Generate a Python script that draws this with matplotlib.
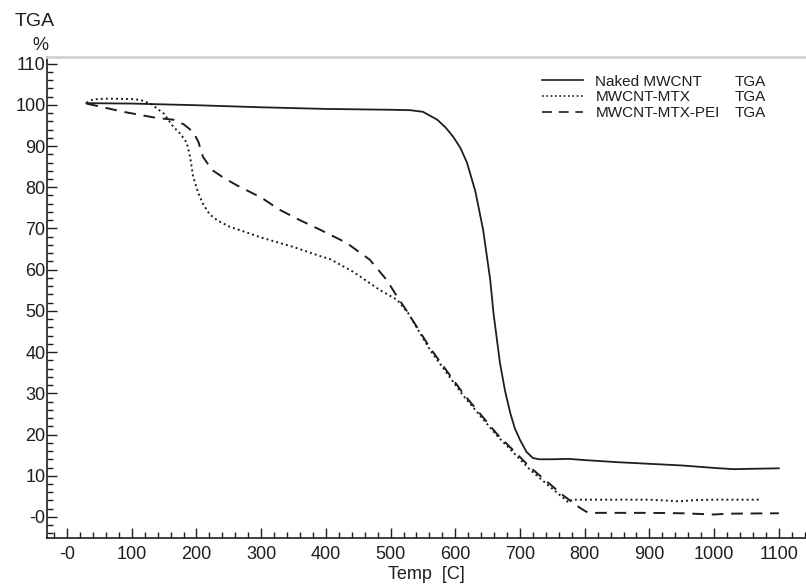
import numpy as np
import matplotlib
matplotlib.use("Agg")
import matplotlib.pyplot as plt
from matplotlib.ticker import MultipleLocator, FixedLocator, FixedFormatter

plt.rcParams['font.family'] = ['Liberation Sans', 'DejaVu Sans']

# TGA curves (temperature in C, mass in %)
naked_t = [30, 100, 200, 300, 400, 500, 530, 550, 572, 585, 597, 608, 618, 631, 643,
           654, 659, 669, 677, 685, 692, 700, 710, 720, 730, 750, 775, 800, 850, 900,
           950, 1000, 1030, 1060, 1100]
naked_w = [100.4, 100.3, 99.9, 99.4, 99.0, 98.8, 98.7, 98.3, 96.4, 94.5, 92.2, 89.5, 86.0,
           79.0, 69.7, 57.5, 49.5, 37.4, 30.5, 25.2, 21.5, 18.7, 15.8, 14.3, 14.0, 14.0,
           14.1, 13.8, 13.3, 12.9, 12.5, 11.9, 11.6, 11.7, 11.8]

mtx_t = [30, 40, 60, 100, 113, 130, 150, 164, 175, 185, 190, 195, 203, 210, 220, 232,
         250, 278, 300, 350, 391, 406, 442, 484, 510, 527, 561, 612, 664, 716, 745, 767,
         775, 780, 850, 900, 947, 970, 1000, 1071]
mtx_w = [100.5, 101.3, 101.5, 101.4, 101.2, 100.2, 97.8, 94.7, 93.0, 90.8, 87.5, 82.5,
         78.5, 76.0, 73.5, 72.0, 70.5, 69.0, 67.8, 65.5, 63.3, 62.6, 59.5, 55.0, 52.7,
         49.5, 40.5, 29.5, 19.8, 11.4, 7.5, 4.6, 3.5, 4.2, 4.2, 4.2, 3.8, 4.1, 4.2, 4.2]

pei_t = [30, 87, 139, 164, 180, 195, 203, 210, 224, 240, 262, 300, 329, 360, 391, 432,
         468, 494, 510, 525, 561, 612, 664, 716, 767, 790, 800, 806, 850, 900, 950, 1000,
         1020, 1100]
pei_w = [100.3, 98.3, 96.8, 96.4, 95.3, 93.4, 91.0, 87.4, 84.2, 82.5, 80.5, 77.5, 74.5,
         72.0, 69.7, 66.5, 62.4, 57.5, 53.5, 50.0, 41.0, 30.0, 20.2, 12.0, 5.2, 2.5, 1.5,
         1.0, 1.0, 1.0, 0.9, 0.6, 0.8, 0.9]

series_names = ['Naked MWCNT', 'MWCNT-MTX', 'MWCNT-MTX-PEI']
x_ticks = list(range(0, 1101, 100))
x_labels = ['-0'] + [str(v) for v in x_ticks[1:]]
y_ticks = list(range(0, 111, 10))
y_labels = ['-0'] + [str(v) for v in y_ticks[1:]]

fig = plt.figure(figsize=(8.06, 5.85), dpi=100)
ax = fig.add_axes([47 / 806, 1 - 538 / 585, 1 - 47 / 806, (538 - 57) / 585])

ink = '#1e1e1e'
ax.plot(naked_t, naked_w, color=ink, lw=1.3, ls='-', label=series_names[0])
ax.plot(mtx_t, mtx_w, color=ink, lw=1.4, ls=(0, (1, 1.6)), label=series_names[1])
ax.plot(pei_t, pei_w, color=ink, lw=1.4, ls=(0, (6, 4)), label=series_names[2])

ax.set_xlim(-31, 1142)
ax.set_ylim(-5.1, 111.6)

ax.xaxis.set_major_locator(FixedLocator(x_ticks))
ax.xaxis.set_major_formatter(FixedFormatter(x_labels))
ax.xaxis.set_minor_locator(MultipleLocator(20))
ax.yaxis.set_major_locator(FixedLocator(y_ticks))
ax.yaxis.set_major_formatter(FixedFormatter(y_labels))
ax.yaxis.set_minor_locator(MultipleLocator(2))

ax.tick_params(axis='both', which='major', direction='in', length=7, width=1,
               labelsize=13, colors=ink)
ax.tick_params(axis='both', which='minor', direction='in', length=4, width=1, colors=ink)
ax.tick_params(axis='y', which='major', pad=1)
ax.tick_params(axis='x', which='major', pad=6)

ax.spines['right'].set_visible(False)
ax.spines['top'].set_color('#d2d2d2')
ax.spines['top'].set_linewidth(2)
for s in ('left', 'bottom'):
    ax.spines[s].set_color(ink)
    ax.spines[s].set_linewidth(1.2)

ax.set_xlabel('Temp  [C]', fontsize=13, labelpad=2, color=ink)

fig.text(15 / 806, 1 - 22 / 585, 'TGA', fontsize=14, va='center', ha='left', color=ink)
fig.text(40 / 806, 1 - 46 / 585, '%', fontsize=13, va='center', ha='center', color=ink)

leg = ax.legend(loc='upper left', bbox_to_anchor=(0.652, 0.963), frameon=False,
                fontsize=11, handlelength=2.7, handletextpad=0.8, labelspacing=0.1,
                borderaxespad=0, borderpad=0)
for h in leg.get_lines():
    h.set_linewidth(1.2)
for t in leg.get_texts():
    t.set_color(ink)

# second legend column with the measurement type
fig.canvas.draw()
renderer = fig.canvas.get_renderer()
inv = fig.transFigure.inverted()
for t in leg.get_texts():
    bb = t.get_window_extent(renderer)
    fx, fy = inv.transform((735, (bb.y0 + bb.y1) / 2))
    fig.text(fx, fy, 'TGA', fontsize=11, va='center', ha='left', color=ink)

fig.savefig('out.png', dpi=100)
